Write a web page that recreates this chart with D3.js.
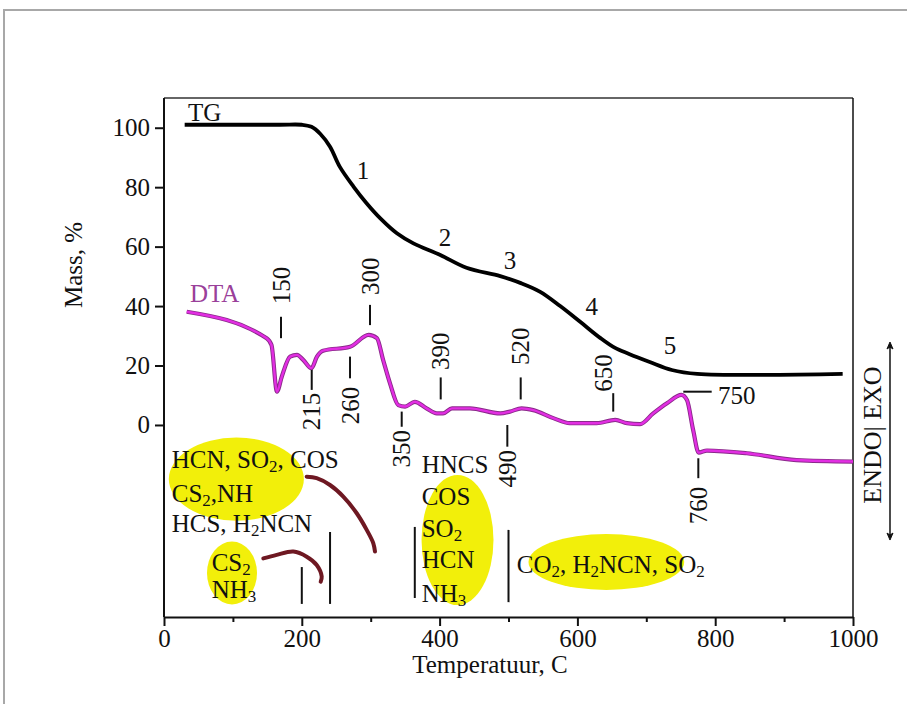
<!DOCTYPE html>
<html><head><meta charset="utf-8">
<script src="https://cdn.jsdelivr.net/npm/d3@7"></script>
<style>
body{margin:0;background:#fff}
svg{display:block}
text{font-family:"Liberation Serif","Times New Roman",serif;fill:#111}
</style>
</head><body>
<svg id="c" width="907" height="704"></svg>
<script>
// ---- data ----
const tgTemp = [30, 168, 200, 214, 227, 241, 255, 275, 294, 314, 338, 362, 401, 439, 488, 517, 546, 575, 604, 633, 654, 675, 705, 737, 774, 985];
const tgMass = [101, 101, 101, 100.3, 97.9, 93.6, 86.9, 80.2, 74.6, 69.5, 64.5, 61.1, 57.2, 52.9, 50.1, 47.8, 44.8, 40, 34.7, 29.3, 26, 23.9, 21.2, 18.5, 17.2, 17.2];

const dtaTemp = [33, 149, 156, 164, 171, 183, 193, 202, 214, 222, 231, 270, 297, 309, 318, 328, 340, 350, 364, 381, 396, 405, 418, 444, 488, 502, 519, 536, 565, 589, 628, 655, 672, 691, 710, 730, 751, 759, 768, 776, 788, 846, 918, 1000];
const dtaValue = [38.1, 29.2, 26.9, 11.2, 16.3, 23.0, 23.6, 21.9, 19.1, 23.0, 25.0, 26.3, 30.3, 29.2, 21.9, 14.0, 6.7, 6.2, 7.8, 5.6, 3.9, 3.9, 5.6, 5.6, 3.9, 4.5, 5.6, 5.0, 2.3, 0.6, 0.6, 1.7, 0.6, 0.3, 3.9, 7.3, 10.1, 8.4, -1.7, -9.3, -8.6, -9.5, -11.8, -12.3];

const xMajorTicks = [0, 200, 400, 600, 800, 1000];
const xMinorTicks = [100, 300, 500, 700, 900];
const yTicks = [0, 20, 40, 60, 80, 100];

// DTA peak annotations (rotated numbers + short marker lines)
const peakLabels  = ["150", "215", "260", "300", "350", "390", "490", "520", "650", "760"];
const peakLineT   = [169.8, 214.4, 270, 299, 345, 401.6, 498.3, 517.7, 652, 775.5];
const peakLineV1  = [36.4, 18.5, 23.0, 40.4, 4.5, 16.0, 0, 16.0, 10.7, -11.2];
const peakLineV2  = [29.2, 11.8, 15.7, 33.6, -0.6, 8.6, -7.3, 8.6, 4.5, -17.9];
const peakTextT   = [169.8, 214.4, 270, 299, 345, 401.6, 498.3, 517.7, 637, 775.5];
const peakTextV   = [40.6, 10.8, 12.9, 43.7, -1.7, 18.5, -8.4, 20.2, 11.2, -20.8];
const peakAnchor  = ["start", "end", "end", "start", "end", "start", "end", "start", "start", "end"];

// horizontal 750 marker
const mark750 = {label: "750", t1: 753.7, t2: 794.9, v: 11.2, textT: 804, textV: 10.1};

// TG stage numbers
const stageLabels = ["1", "2", "3", "4", "5"];
const stageT = [288.8, 407.8, 502.2, 620.7, 734.4];
const stageV = [85.8, 63.3, 55.5, 39.8, 26.9];

// evolved gases: ellipses (data units)
const ellCx = [105, 98.7, 426, 642];
const ellCy = [-18.2, -49.8, -38.7, -46.1];
const ellRx = [98, 36.3, 52.2, 113];
const ellRy = [14.0, 10.6, 21.9, 9.4];

const gasTexts = ["HCN, SO_2, COS", "CS_2,NH", "HCS, H_2NCN", "CS_2", "NH_3", "HNCS", "COS", "SO_2", "HCN", "NH_3", "CO_2, H_2NCN, SO_2"];
const gasT = [11.2, 11.2, 11.2, 69.2, 69.2, 374, 374, 374, 374, 374, 512];
const gasV = [-14.5, -25.8, -35.9, -49.2, -58.2, -16.3, -26.9, -37.6, -48.2, -59.5, -49.9];

// stage separators in the gas area
const sepT  = [200, 241, 364, 500];
const sepV1 = [-47.8, -36.0, -34.3, -35.3];
const sepV2 = [-60.2, -60.2, -58.2, -59.6];

// arrows (curved) from the gas area
const arc1T = [207.1, 221.6, 240.9, 260.2, 279.7, 294.2, 303.8, 306.2];
const arc1V = [-17.4, -17.9, -20.2, -24.1, -29.7, -35.3, -39.8, -42.6];
const arc2T = [144.1, 163.6, 187.7, 207.1, 221.6, 228.9, 227.4];
const arc2V = [-44.9, -43.7, -42.6, -44.3, -47.1, -51.0, -52.7];

// ---- drawing ----
const svg = d3.select("#c");
const FS = 25;
const x = d3.scaleLinear().domain([0, 1000]).range([164, 853]);
const y = d3.scaleLinear().domain([-64.6, 110]).range([617, 98]);

// outer gray border
svg.append("rect").attr("x", 4).attr("y", 10).attr("width", 920).attr("height", 720)
  .attr("fill", "none").attr("stroke", "#a8a8a8").attr("stroke-width", 2);

// ellipses (behind texts)
svg.append("g").selectAll("ellipse").data(ellCx).join("ellipse")
  .attr("cx", (d, i) => x(d)).attr("cy", (d, i) => y(ellCy[i]))
  .attr("rx", (d, i) => x(d + ellRx[i]) - x(d))
  .attr("ry", (d, i) => y(ellCy[i] - ellRy[i]) - y(ellCy[i]))
  .attr("fill", "#f2ef0a");

// frame top and right
svg.append("line").attr("x1", x(0)).attr("x2", x(1000)).attr("y1", y(110)).attr("y2", y(110))
  .attr("stroke", "#333").attr("stroke-width", 1.5);
svg.append("line").attr("x1", x(1000)).attr("x2", x(1000)).attr("y1", y(110)).attr("y2", y(-64.6))
  .attr("stroke", "#111").attr("stroke-width", 1.5);

// axes
svg.append("g").attr("transform", `translate(0,${y(-64.6)})`)
  .call(d3.axisBottom(x).tickValues(xMajorTicks).tickSize(9).tickSizeOuter(0).tickPadding(3).tickFormat(d3.format("d")));
svg.append("g").attr("transform", `translate(0,${y(-64.6)})`)
  .call(d3.axisBottom(x).tickValues(xMinorTicks).tickSize(5).tickSizeOuter(0).tickFormat(""))
  .select(".domain").remove();
const gy = svg.append("g").attr("transform", `translate(${x(0)},0)`)
  .call(d3.axisLeft(y).tickValues(yTicks).tickSize(9).tickSizeOuter(0).tickPadding(5).tickFormat(d3.format("d")));
gy.select(".domain").attr("d", `M0,${y(110)}V${y(-64.6)}`);
svg.selectAll(".tick text").attr("font-size", FS).attr("font-family", "Liberation Serif").attr("fill", "#111");
svg.selectAll(".domain, .tick line").attr("stroke", "#111").attr("stroke-width", 2);

// axis titles
svg.append("text").attr("transform", `translate(82,265) rotate(-90)`).attr("text-anchor", "middle")
  .attr("font-size", FS).text("Mass, %");
svg.append("text").attr("x", 490).attr("y", 673).attr("text-anchor", "middle")
  .attr("font-size", FS).text("Temperatuur, C");

// TG curve
const tgLine = d3.line().x((d, i) => x(tgTemp[i])).y(d => y(d)).curve(d3.curveCatmullRom);
svg.append("path").attr("d", tgLine(tgMass)).attr("fill", "none")
  .attr("stroke", "#000").attr("stroke-width", 3.8).attr("stroke-linejoin", "round");

// DTA curve
const dtaLine = d3.line().x((d, i) => x(dtaTemp[i])).y(d => y(d)).curve(d3.curveMonotoneX);
svg.append("path").attr("d", dtaLine(dtaValue)).attr("fill", "none")
  .attr("stroke", "#8a2a8a").attr("stroke-width", 4.2).attr("stroke-linejoin", "round");
svg.append("path").attr("d", dtaLine(dtaValue)).attr("fill", "none")
  .attr("stroke", "#e22ee2").attr("stroke-width", 2.4).attr("stroke-linejoin", "round");

// curve labels
svg.append("text").attr("x", x(34.8)).attr("y", y(102.3)).attr("font-size", FS).text("TG");
svg.append("text").attr("x", x(37.7)).attr("y", y(41.4)).attr("font-size", FS)
  .style("fill", "#9a409a").text("DTA");

// stage numbers
svg.append("g").selectAll("text").data(stageLabels).join("text")
  .attr("x", (d, i) => x(stageT[i])).attr("y", (d, i) => y(stageV[i]))
  .attr("dy", "0.35em").attr("text-anchor", "middle").attr("font-size", FS).text(d => d);

// peak markers
svg.append("g").selectAll("line").data(peakLabels).join("line")
  .attr("x1", (d, i) => x(peakLineT[i])).attr("x2", (d, i) => x(peakLineT[i]))
  .attr("y1", (d, i) => y(peakLineV1[i])).attr("y2", (d, i) => y(peakLineV2[i]))
  .attr("stroke", "#111").attr("stroke-width", 2);
svg.append("g").selectAll("text").data(peakLabels).join("text")
  .attr("transform", (d, i) => `translate(${x(peakTextT[i])},${y(peakTextV[i])}) rotate(-90)`)
  .attr("dy", "0.35em").attr("text-anchor", (d, i) => peakAnchor[i]).attr("font-size", FS).text(d => d);
svg.append("line").attr("x1", x(mark750.t1)).attr("x2", x(mark750.t2))
  .attr("y1", y(mark750.v)).attr("y2", y(mark750.v)).attr("stroke", "#111").attr("stroke-width", 2);
svg.append("text").attr("x", x(mark750.textT)).attr("y", y(mark750.textV)).attr("dy", "0.35em")
  .attr("font-size", FS).text(mark750.label);

// separators
svg.append("g").selectAll("line").data(sepT).join("line")
  .attr("x1", d => x(d)).attr("x2", d => x(d))
  .attr("y1", (d, i) => y(sepV1[i])).attr("y2", (d, i) => y(sepV2[i]))
  .attr("stroke", "#111").attr("stroke-width", 2);

// curved arrows
const arcLine = d3.line().curve(d3.curveCatmullRom);
svg.append("path").attr("d", arcLine(arc1T.map((t, i) => [x(t), y(arc1V[i])])))
  .attr("fill", "none").attr("stroke", "#6e1822").attr("stroke-width", 4).attr("stroke-linecap", "round");
svg.append("path").attr("d", arcLine(arc2T.map((t, i) => [x(t), y(arc2V[i])])))
  .attr("fill", "none").attr("stroke", "#6e1822").attr("stroke-width", 4).attr("stroke-linecap", "round");

// gas texts with subscripts
gasTexts.forEach((s, i) => {
  const t = svg.append("text").attr("x", x(gasT[i])).attr("y", y(gasV[i])).attr("font-size", FS);
  const parts = s.split(/(_\d)/);
  let shifted = false;
  parts.forEach(p => {
    if (!p) return;
    if (p[0] === "_") {
      t.append("tspan").attr("dy", 4).attr("font-size", 17).text(p.slice(1));
      shifted = true;
    } else {
      const ts = t.append("tspan").text(p);
      if (shifted) { ts.attr("dy", -4); shifted = false; }
    }
  });
});

// ENDO | EXO
svg.append("text").attr("transform", `translate(${x(1027)},${y(-3.4)}) rotate(-90)`)
  .attr("dy", "0.35em").attr("text-anchor", "middle").attr("font-size", 26).text("ENDO| EXO");
const ax = x(1053.7), ay1 = y(26.9), ay2 = y(-37.7);
svg.append("line").attr("x1", ax).attr("x2", ax).attr("y1", ay1).attr("y2", ay2)
  .attr("stroke", "#111").attr("stroke-width", 1.5);
svg.append("path").attr("d", `M${ax},${ay1-3}l-3,7l3,-2l3,2z M${ax},${ay2+3}l-3,-7l3,2l3,-2z`)
  .attr("fill", "#111").attr("stroke", "#111").attr("stroke-width", 1);
</script>
</body></html>
